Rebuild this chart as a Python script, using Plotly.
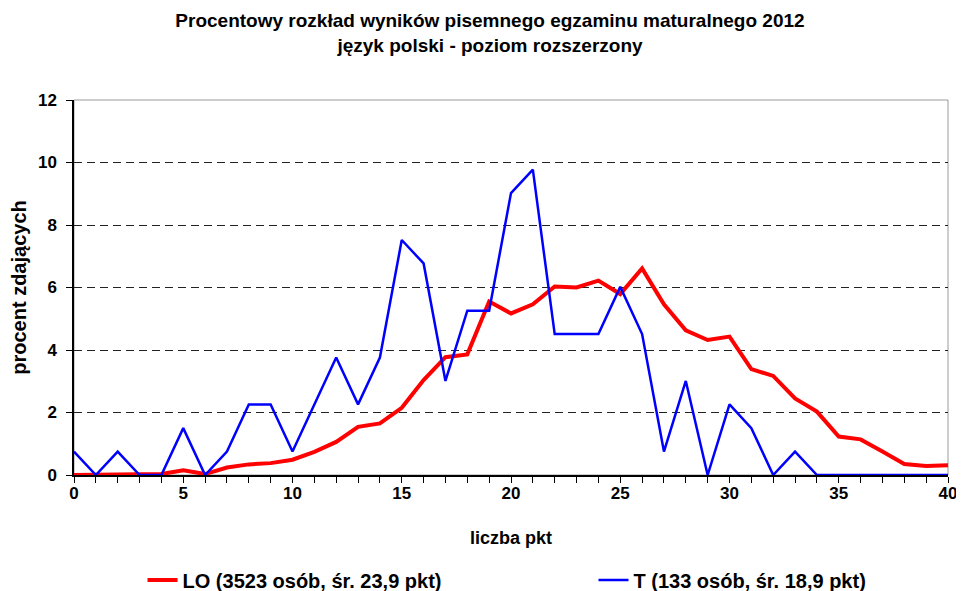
import plotly.graph_objects as go

points = list(range(0, 41))
lo_values = [0.0, 0.0, 0.0, 0.0, 0.03, 0.15, 0.03, 0.24, 0.34, 0.38, 0.49, 0.74, 1.06, 1.54, 1.65,
             2.15, 3.04, 3.77, 3.86, 5.55, 5.17, 5.46, 6.03, 6.0, 6.22, 5.79, 6.61, 5.46, 4.63,
             4.32, 4.43, 3.39, 3.17, 2.45, 2.03, 1.23, 1.14, 0.75, 0.35, 0.29, 0.31]
t_values = [0.75, 0.0, 0.75, 0.0, 0.0, 1.5, 0.0, 0.75, 2.26, 2.26, 0.75, 2.26, 3.76, 2.26, 3.76,
            7.52, 6.77, 3.01, 5.26, 5.26, 9.02, 9.77, 4.51, 4.51, 4.51, 6.02, 4.51, 0.75, 3.01,
            0.0, 2.26, 1.5, 0.0, 0.75, 0.0, 0.0, 0.0, 0.0, 0.0, 0.0, 0.0]
lo_name = "LO (3523 osób, śr. 23,9 pkt)"
t_name = "T (133 osób, śr. 18,9 pkt)"
title_text = "Procentowy rozkład wyników pisemnego egzaminu maturalnego 2012<br>język polski - poziom rozszerzony"
x_title = "liczba pkt"
y_title = "procent zdających"
x_ticks = [0, 5, 10, 15, 20, 25, 30, 35, 40]
y_ticks = [0, 2, 4, 6, 8, 10, 12]

FONT = "Liberation Sans, Arial, sans-serif"
bold = dict(family=FONT, size=17, color="black", weight=700)
legend_font = dict(family=FONT, size=20, color="black", weight=700)

fig = go.Figure()
fig.add_trace(go.Scatter(x=points, y=lo_values, mode="lines", name=lo_name,
                         line=dict(color="#FF0000", width=4), cliponaxis=False,
                         legend="legend"))
fig.add_trace(go.Scatter(x=points, y=t_values, mode="lines", name=t_name,
                         line=dict(color="#0000FF", width=2.5), cliponaxis=False,
                         legend="legend2"))

fig.update_layout(
    width=964, height=591,
    margin=dict(l=66, r=24, t=92, b=124, autoexpand=False),
    paper_bgcolor="white", plot_bgcolor="white",
    font=bold,
    title=dict(text=title_text, x=0.5, xanchor="center", yref="container",
               y=1 - 19 / 591, yanchor="middle",
               font=dict(family=FONT, size=19, color="black", weight=700)),
    showlegend=True,
    legend=dict(orientation="h", x=0.0784, xanchor="left", y=-0.28, yanchor="middle",
                font=legend_font, bgcolor="rgba(0,0,0,0)"),
    legend2=dict(orientation="h", x=0.5944, xanchor="left", y=-0.28, yanchor="middle",
                 font=legend_font, bgcolor="rgba(0,0,0,0)"),
    shapes=[dict(type="rect", xref="paper", yref="paper", x0=0, x1=1, y0=0, y1=1,
                 line=dict(color="#9a9a9a", width=1), layer="below")],
)
fig.update_xaxes(range=[0, 40], tickvals=x_ticks, ticks="outside", ticklen=6,
                 tickcolor="black", showline=True, linecolor="black", linewidth=1.5,
                 showgrid=False, zeroline=False, ticklabelstandoff=-4,
                 minor=dict(dtick=1, ticks="outside", ticklen=6, tickcolor="black", showgrid=False),
                 title=dict(text=x_title, standoff=29,
                            font=dict(family=FONT, size=18, color="black", weight=700)),
                 tickfont=dict(family=FONT, size=17, color="black", weight=700))
fig.update_yaxes(range=[0, 12], tickvals=y_ticks, ticks="outside", ticklen=6,
                 tickcolor="black", showline=True, linecolor="black", linewidth=1.5,
                 showgrid=True, gridcolor="#222222", griddash="8px,5px", gridwidth=1,
                 zeroline=False, ticklabelstandoff=6,
                 title=dict(text=y_title, standoff=9,
                            font=dict(family=FONT, size=20, color="black", weight=700)),
                 tickfont=dict(family=FONT, size=17, color="black", weight=700))

fig.write_html("out.html")
